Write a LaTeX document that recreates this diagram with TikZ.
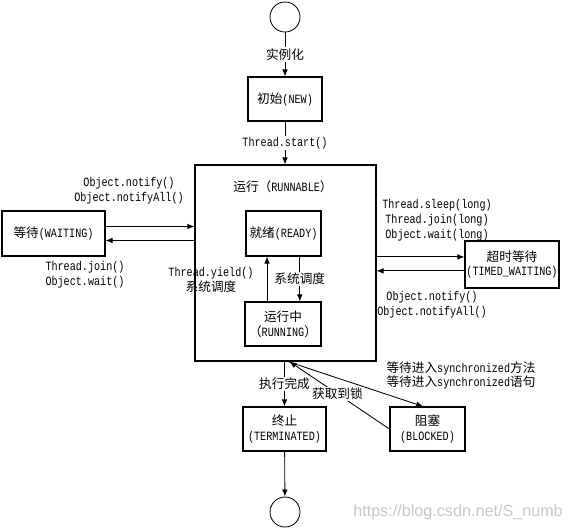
\documentclass[tikz,border=0pt]{standalone}
\usepackage{fontspec}
\setmainfont{Liberation Mono}[FakeStretch=0.8]
\newfontfamily\zhfont{Noto Sans CJK SC}
\newfontfamily\wmfont{Liberation Sans}
\newcommand{\zh}[1]{{\zhfont #1}}
\usetikzlibrary{arrows.meta, positioning}

\begin{document}
\begin{tikzpicture}[x=0.025cm, y=-0.025cm,
		font=\fontsize{9}{10.5}\selectfont,
		state/.style={draw, line width=0.8pt, align=center, inner sep=1pt},
		ends/.style={draw, circle, line width=0.6pt, minimum size=0.75cm},
		lab/.style={fill=white, inner sep=1pt, align=center},
		note/.style={align=center, inner sep=1pt},
		flow/.style={-{Latex[length=5pt,width=4pt]}, line width=0.6pt},
		]
	\useasboundingbox (0,0) rectangle (571,529);
	% states
	\node[ends] (start) at (285,17) {};
	\node[state, minimum width=1.85cm, minimum height=1.1cm] (new) at (285,99) {\zh{初始}(NEW)};
	\node[state, minimum width=4.525cm, minimum height=4.9cm] (runnable) at (285.5,263) {};
	\node[note] (title) at (283,187) {\zh{运行（}RUNNABLE\zh{）}};
	\node[state, minimum width=1.875cm, minimum height=1.125cm] (ready) at (283.5,233.5) {\zh{就绪}(READY)};
	\node[state, minimum width=1.9cm, minimum height=1.1cm] (running) at (283,324) {\zh{运行中}\\\zh{（}RUNNING\zh{）}};
	\node[state, minimum width=2.575cm, minimum height=1.125cm] (waiting) at (53.5,233.5) {\zh{等待}(WAITING)};
	\node[state, minimum width=2.35cm, minimum height=1.175cm] (timed) at (512,264.5) {\zh{超时等待}\\(TIMED\_WAITING)};
	\node[state, minimum width=2.075cm, minimum height=1.1cm] (term) at (284.5,429) {\zh{终止}\\(TERMINATED)};
	\node[state, minimum width=1.875cm, minimum height=1.1cm] (blocked) at (427.5,429) {\zh{阻塞}\\(BLOCKED)};
	\node[ends] (stop) at (285,512) {};

	% transitions
	\draw[flow] (start) -- node[lab] {\zh{实例化}} (new);
	\draw[flow] (new) -- node[lab] {Thread.start()} (new |- runnable.north);
	\draw[flow] ([yshift=0.175cm]waiting.east) -- ([yshift=0.175cm]waiting.east -| runnable.west);
	\draw[flow] ([yshift=-0.175cm]waiting.east -| runnable.west) -- ([yshift=-0.175cm]waiting.east);
	\draw[flow] ([yshift=0.19cm]timed.west -| runnable.east) -- ([yshift=0.19cm]timed.west);
	\draw[flow] ([yshift=-0.16cm]timed.west) -- ([yshift=-0.16cm]timed.west -| runnable.east);
	\draw[flow] ([xshift=-0.4cm]running.north) -- ([xshift=-0.4cm]running.north |- ready.south);
	\draw[flow] ([xshift=0.42cm]running.north |- ready.south) -- node[lab] {\zh{系统调度}} ([xshift=0.42cm]running.north);
	\draw[flow] (runnable.south -| term.north) -- node[lab] {\zh{执行完成}} (term);
	\draw[flow] ([xshift=0.06cm]runnable.south) -- ([xshift=-0.11cm]blocked.north);
	\draw[flow] (blocked.west) -- node[lab, pos=0.52] {\zh{获取到锁}} ([xshift=0.1cm]runnable.south);
	\draw[flow] (term) -- (stop);

	% texts
	\node[note] (wakeup) at (129,191) {Object.notify()\\Object.notifyAll()};
	\node[note] (wait) at (85,275) {Thread.join()\\Object.wait()};
	\node[note] (yield) at (211,280) {Thread.yield()\\\zh{系统调度}};
	\node[note] (sleep) at (437,220) {Thread.sleep(long)\\Thread.join(long)\\Object.wait(long)};
	\node[note] (timeout) at (432,304.5) {Object.notify()\\Object.notifyAll()};
	\node[note] (sync) at (461,375.5) {\zh{等待进入}synchronized\zh{方法}\\\zh{等待进入}synchronized\zh{语句}};
	\node[note, text=black!22, font=\wmfont\fontsize{11.5}{13}\selectfont] (mark) at (458,512) {https://blog.csdn.net/S\_numb};
\end{tikzpicture}
\end{document}
